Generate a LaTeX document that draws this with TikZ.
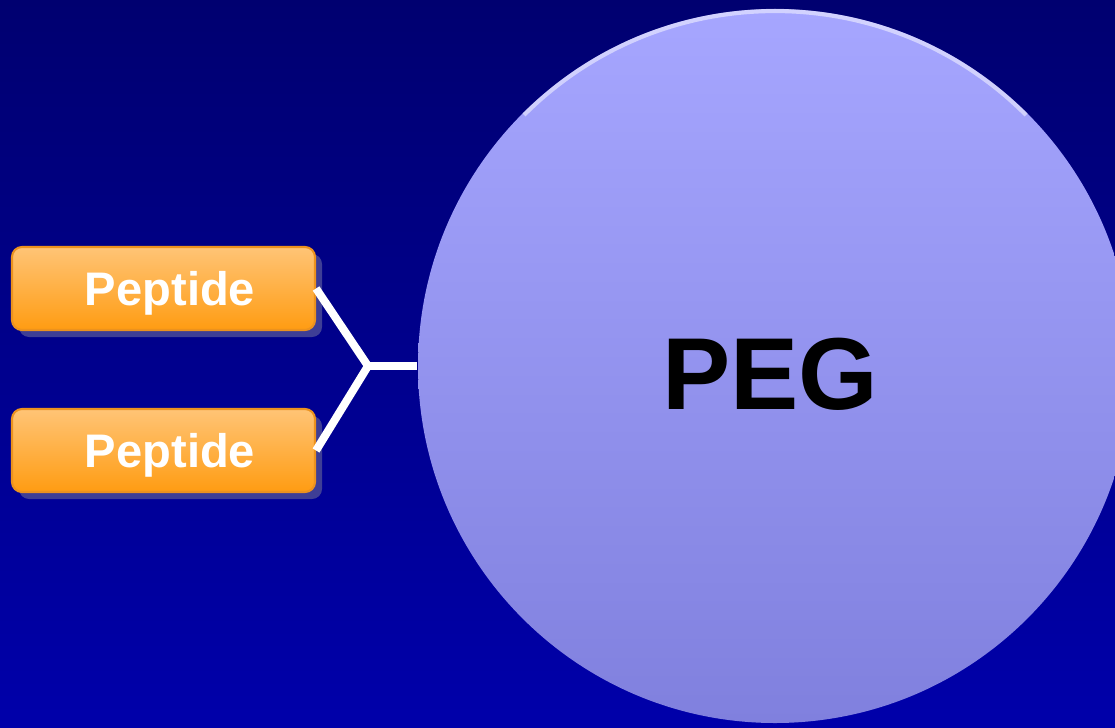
\documentclass[tikz,border=0pt]{standalone}
\usepackage{fontspec}
\setmainfont{Liberation Sans}
\usepackage{xcolor}
\usepackage{tikz}
\usetikzlibrary{arrows.meta, positioning}
\usetikzlibrary{shadows}
\usetikzlibrary{calc}

\definecolor{bgtop}{RGB}{0,0,112}
\definecolor{bgbottom}{RGB}{0,0,170}
\definecolor{pegtop}{RGB}{166,166,255}
\definecolor{pegbottom}{RGB}{128,128,222}
\definecolor{peptop}{RGB}{255,196,118}
\definecolor{pepbottom}{RGB}{255,156,18}
\definecolor{pepedge}{RGB}{236,146,30}
\definecolor{pepshadow}{RGB}{62,62,150}

\tikzset{
    pepbox/.style={rectangle, rounded corners=0.1cm, draw=pepedge, line width=0.6pt,
        top color=peptop, bottom color=pepbottom,
        minimum width=3.03cm, minimum height=0.83cm, text depth=0pt,
        text=white, font=\fontsize{13.4}{16}\selectfont\bfseries,
        drop shadow={shadow xshift=0.07cm, shadow yshift=-0.07cm, fill=pepshadow, opacity=1}},
    link/.style={draw=white, line width=0.08cm}
}

\begin{document}
\begin{tikzpicture}
        % frame and backdrop
        \useasboundingbox (0,0) rectangle (11.15,7.27);
        \shade[top color=bgtop, bottom color=bgbottom] (0,0) rectangle (11.15,7.27);
        \clip (0,0) rectangle (11.15,7.27);

        % PEG sphere
        \node[circle, minimum size=7.14cm, inner sep=0pt,
            top color=pegtop, bottom color=pegbottom] (peg) at (7.75,3.61) {};
        \draw[white, opacity=0.5, line width=1.2pt] ($(peg.center)+(135:3.55)$)
            arc[start angle=135, end angle=45, radius=3.55cm];
        \node[font=\fontsize{29.1}{34}\selectfont\bfseries, text=black] (pegtext)
            at ([xshift=-0.05cm, yshift=-0.085cm]peg.center) {PEG};

        % peptide boxes
        \node[pepbox] (pep1) at (1.635,4.385) {\hspace{0.13cm}Peptide};
        \node[pepbox] (pep2) at (1.635,2.765) {\hspace{0.13cm}Peptide};

        % branching linker
        \coordinate (fork) at (3.68,3.61);
        \draw[link] (pep1.east) -- (fork) -- (pep2.east);
        \draw[link] (fork) -- (peg.west);
    \end{tikzpicture}
\end{document}
